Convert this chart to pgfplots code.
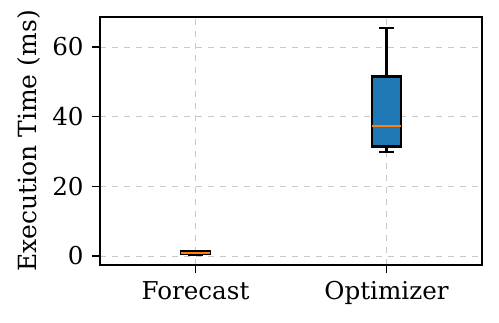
\documentclass[border=0pt]{standalone}
\usepackage{fontspec}
\setmainfont{DejaVu Serif}
\usepackage{pgfplots}
\pgfplotsset{compat=1.18}
\usepgfplotslibrary{statistics}

\definecolor{mplblue}{HTML}{1F77B4}
\definecolor{mplorange}{HTML}{FF7F0E}
\definecolor{gridgray}{HTML}{C8C8C8}

\begin{document}
\fontsize{12}{14}\selectfont
\begin{tikzpicture}
  \begin{axis}[
      scale only axis,
      width=191pt, height=124pt,
      xmin=0.5, xmax=2.5,
      ymin=-2.6, ymax=68.6,
      xtick={1,2},
      xticklabels={Forecast, Optimizer},
      ytick={0,20,40,60},
      ylabel={Execution Time (ms)},
      ylabel style={at={(ticklabel cs:0.5)}, anchor=south, yshift=-2pt},
      tick align=outside,
      xtick pos=bottom, ytick pos=left,
      major tick length=4pt,
      tick style={black, line width=0.6pt},
      axis line style={line width=0.8pt},
      grid=major,
      grid style={dashed, gridgray, line width=0.4pt},
      /pgf/number format/assume math mode=true,
      ticklabel style={font=\fontsize{12.3}{14}\selectfont},
      label style={font=\fontsize{12.5}{14}\selectfont},
      boxplot/draw direction=y,
      boxplot/every median/.style={draw=mplorange, line width=1pt},
    ]
    \addplot[
      boxplot prepared={
        draw position=1,
        lower whisker=0.3, lower quartile=0.5,
        median=0.8,
        upper quartile=1.3, upper whisker=1.5,
        box extend=0.15, whisker extend=0.075,
      },
      draw=black, fill=mplblue, line width=1.1pt,
    ] coordinates {};
    \addplot[
      boxplot prepared={
        draw position=2,
        lower whisker=29.9, lower quartile=31.4,
        median=37.3,
        upper quartile=51.5, upper whisker=65.4,
        box extend=0.15, whisker extend=0.075,
      },
      draw=black, fill=mplblue, line width=1.1pt,
    ] coordinates {};
  \end{axis}
  \pgfresetboundingbox
  \path ([shift={(-50pt,-29pt)}]current axis.south west)
    rectangle ([shift={(8.5pt,8.5pt)}]current axis.north east);
\end{tikzpicture}
\end{document}
